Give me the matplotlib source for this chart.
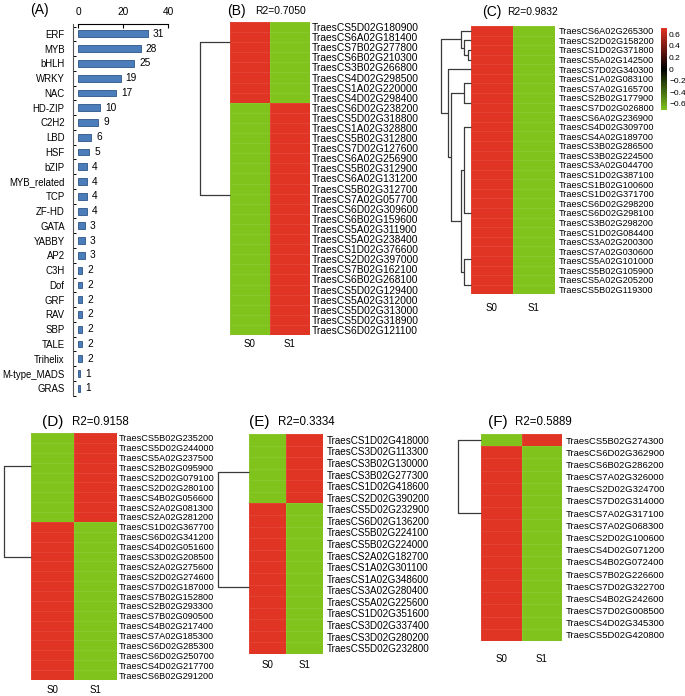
import numpy as np
import matplotlib.pyplot as plt
from matplotlib.colors import LinearSegmentedColormap

plt.rcParams['font.family'] = ['Liberation Sans', 'DejaVu Sans']

# ---- (A) number of genes per TF family ----
families = ['ERF', 'MYB', 'bHLH', 'WRKY', 'NAC', 'HD-ZIP', 'C2H2', 'LBD', 'HSF',
            'bZIP', 'MYB_related', 'TCP', 'ZF-HD', 'GATA', 'YABBY', 'AP2', 'C3H',
            'Dof', 'GRF', 'RAV', 'SBP', 'TALE', 'Trihelix', 'M-type_MADS', 'GRAS']
counts = [31, 28, 25, 19, 17, 10, 9, 6, 5, 4, 4, 4, 4, 3, 3, 3, 2, 2, 2, 2, 2, 2, 2, 1, 1]
count_ticks = [0, 20, 40]

# ---- heatmaps: row-scaled expression (S0, S1) ----
samples = ['S0', 'S1']

b_genes = ['TraesCS5D02G180900', 'TraesCS6A02G181400', 'TraesCS7B02G277800',
           'TraesCS6B02G210300', 'TraesCS3B02G266800', 'TraesCS4D02G298500',
           'TraesCS1A02G220000', 'TraesCS4D02G298400', 'TraesCS6D02G238200',
           'TraesCS5D02G318800', 'TraesCS1A02G328800', 'TraesCS5B02G312800',
           'TraesCS7D02G127600', 'TraesCS6A02G256900', 'TraesCS5B02G312900',
           'TraesCS6A02G131200', 'TraesCS5B02G312700', 'TraesCS7A02G057700',
           'TraesCS6D02G309600', 'TraesCS6B02G159600', 'TraesCS5A02G311900',
           'TraesCS5A02G238400', 'TraesCS1D02G376600', 'TraesCS2D02G397000',
           'TraesCS7B02G162100', 'TraesCS6B02G268100', 'TraesCS5D02G129400',
           'TraesCS5A02G312000', 'TraesCS5D02G313000', 'TraesCS5D02G318900',
           'TraesCS6D02G121100']
b_s0 = [0.707] * 8 + [-0.707] * 23
b_s1 = [-0.707] * 8 + [0.707] * 23
b_r2 = 'R2=0.7050'

c_genes = ['TraesCS6A02G265300', 'TraesCS2D02G158200', 'TraesCS1D02G371800',
           'TraesCS5A02G142500', 'TraesCS7D02G340300', 'TraesCS1A02G083100',
           'TraesCS7A02G165700', 'TraesCS2B02G177900', 'TraesCS7D02G026800',
           'TraesCS6A02G236900', 'TraesCS4D02G309700', 'TraesCS4A02G189700',
           'TraesCS3B02G286500', 'TraesCS3B02G224500', 'TraesCS3A02G044700',
           'TraesCS1D02G387100', 'TraesCS1B02G100600', 'TraesCS1D02G371700',
           'TraesCS6D02G298200', 'TraesCS6D02G298100', 'TraesCS3B02G298200',
           'TraesCS1D02G084400', 'TraesCS3A02G200300', 'TraesCS7A02G030600',
           'TraesCS5A02G101000', 'TraesCS5B02G105900', 'TraesCS5A02G205200',
           'TraesCS5B02G119300']
c_s0 = [0.707] * 28
c_s1 = [-0.707] * 28
c_r2 = 'R2=0.9832'

d_genes = ['TraesCS5B02G235200', 'TraesCS5D02G244000', 'TraesCS5A02G237500',
           'TraesCS2B02G095900', 'TraesCS2D02G079100', 'TraesCS2D02G280100',
           'TraesCS4B02G056600', 'TraesCS2A02G081300', 'TraesCS2A02G281200',
           'TraesCS1D02G367700', 'TraesCS6D02G341200', 'TraesCS4D02G051600',
           'TraesCS3D02G208500', 'TraesCS2A02G275600', 'TraesCS2D02G274600',
           'TraesCS7D02G187000', 'TraesCS7B02G152800', 'TraesCS2B02G293300',
           'TraesCS7B02G090500', 'TraesCS4B02G217400', 'TraesCS7A02G185300',
           'TraesCS6D02G285300', 'TraesCS6D02G250700', 'TraesCS4D02G217700',
           'TraesCS6B02G291200']
d_s0 = [-0.707] * 9 + [0.707] * 16
d_s1 = [0.707] * 9 + [-0.707] * 16
d_r2 = 'R2=0.9158'

e_genes = ['TraesCS1D02G418000', 'TraesCS3D02G113300', 'TraesCS3B02G130000',
           'TraesCS3B02G277300', 'TraesCS1D02G418600', 'TraesCS2D02G390200',
           'TraesCS5D02G232900', 'TraesCS6D02G136200', 'TraesCS5B02G224100',
           'TraesCS5B02G224000', 'TraesCS2A02G182700', 'TraesCS1A02G301100',
           'TraesCS1A02G348600', 'TraesCS3A02G280400', 'TraesCS5A02G225600',
           'TraesCS1D02G351600', 'TraesCS3D02G337400', 'TraesCS3D02G280200',
           'TraesCS5D02G232800']
e_s0 = [-0.707] * 6 + [0.707] * 13
e_s1 = [0.707] * 6 + [-0.707] * 13
e_r2 = 'R2=0.3334'

f_genes = ['TraesCS5B02G274300', 'TraesCS6D02G362900', 'TraesCS6B02G286200',
           'TraesCS7A02G326000', 'TraesCS2D02G324700', 'TraesCS7D02G314000',
           'TraesCS7A02G317100', 'TraesCS7A02G068300', 'TraesCS2D02G100600',
           'TraesCS4D02G071200', 'TraesCS4B02G072400', 'TraesCS7B02G226600',
           'TraesCS7D02G322700', 'TraesCS4B02G242600', 'TraesCS7D02G008500',
           'TraesCS4D02G345300', 'TraesCS5D02G420800']
f_s0 = [-0.707] * 1 + [0.707] * 16
f_s1 = [0.707] * 1 + [-0.707] * 16
f_r2 = 'R2=0.5889'

# row dendrograms: leaf = row position (height 0), node = (left, right, height)
b_tree = (1.5, 16.6, 30)
c_tree = ((0, (1, (2, 3, 3), 6.7), 10.2),
          (4, ((5.5, 7.5, 6.7), ((10, 19, 6.7), (23.8, 26.5, 6.7), 10.2), 20), 22.7),
          29.7)
d_tree = (2.8, 12.0, 27)
e_tree = (2.8, 12.7, 31)
f_tree = (0, 6.0, 23)

cbar_ticks = [0.6, 0.4, 0.2, 0, -0.2, -0.4, -0.6]
cbar_labels = ['0.6', '0.4', '0.2', '0', '\u22120.2', '\u22120.4', '\u22120.6']

W, H = 685, 696
RED, GREEN = '#E03424', '#7FC31C'
cmap = LinearSegmentedColormap.from_list('gkr', [GREEN, 'black', RED])
VMAX = 0.7071


def box(x0, y0, x1, y1):
    """pixel box (top-left origin) -> figure fraction rect"""
    return [x0 / W, 1 - y1 / H, (x1 - x0) / W, (y1 - y0) / H]


def ftext(x, y, s, **kw):
    fig.text(x / W, 1 - y / H, s, va='center', **kw)


def draw_tree(ax, node):
    if not isinstance(node, tuple):
        return float(node), 0.0
    left, right, h = node
    y1, h1 = draw_tree(ax, left)
    y2, h2 = draw_tree(ax, right)
    ax.plot([h1, h, h, h2], [y1, y1, y2, y2], color='#3a3a3a', lw=0.9,
            clip_on=False, solid_capstyle='butt')
    return (y1 + y2) / 2, h


def heatmap_panel(hm, tree_left, genes, s0, s1, tree, gene_fs, gene_pad, s_pad):
    x0, y0, x1, y1 = hm
    n = len(genes)
    ax = fig.add_axes(box(x0, y0, x1, y1))
    vals = np.column_stack([s0, s1])
    mesh = ax.pcolormesh(np.arange(3) - 0.5, np.arange(n + 1) - 0.5, vals,
                         cmap=cmap, vmin=-VMAX, vmax=VMAX,
                         edgecolors=(1, 1, 1, 0.08), linewidth=0.4)
    ax.set_xlim(-0.5, 1.5)
    ax.set_ylim(n - 0.5, -0.5)
    ax.set_xticks([0, 1], samples, fontsize=7)
    ax.set_yticks(range(n), genes, fontsize=gene_fs)
    ax.yaxis.tick_right()
    ax.tick_params(axis='y', length=0, pad=gene_pad)
    ax.tick_params(axis='x', length=0, pad=s_pad)
    for s in ax.spines.values():
        s.set_visible(False)

    dax = fig.add_axes(box(tree_left, y0, x0, y1))
    dax.set_xlim(x0 - tree_left, 0)
    dax.set_ylim(n - 0.5, -0.5)
    dax.axis('off')
    draw_tree(dax, tree)
    return mesh


fig = plt.figure(figsize=(W / 100, H / 100), dpi=100)

# ---- (A) bar chart ----
ax = fig.add_axes(box(73, 24, 168, 395.7))
y = np.arange(len(families))
ax.barh(y, counts, height=0.46, color='#4A7DBA', edgecolor='#2D5485', linewidth=0.6)
for yi, v in zip(y, counts):
    ax.annotate(str(v), (v, yi), xytext=(3.5, 0), textcoords='offset points',
                va='center', ha='left', fontsize=7.3)
ax.set_xlim(-2.22, 40)
ax.set_ylim(24.38, -0.67)
ax.xaxis.tick_top()
ax.set_xticks(count_ticks)
ax.tick_params(axis='x', direction='in', length=3, pad=5, labelsize=7.3, width=0.8)
ax.set_yticks(y, families)
ax.set_yticks(np.arange(len(families) + 1) - 0.5, minor=True)
ax.tick_params(axis='y', which='major', length=0, pad=6, labelsize=6.9)
ax.tick_params(axis='y', which='minor', direction='in', length=2.5, width=0.7)
ax.spines['right'].set_visible(False)
ax.spines['bottom'].set_visible(False)
ax.spines['top'].set_bounds(0, 40)
ax.spines['top'].set_linewidth(0.8)
ax.spines['left'].set_linewidth(0.8)
ax.spines['left'].set_color('#555555')
ftext(39, 10, '(A)', fontsize=10, ha='center')

# ---- (B) ----
heatmap_panel((230, 22, 310, 335), 195, b_genes, b_s0, b_s1, b_tree, 7.4, 1, 2.9)
ftext(236.5, 11, '(B)', fontsize=10, ha='center')
ftext(255, 11, b_r2, fontsize=7.4, ha='left')

# ---- (C) ----
mesh_c = heatmap_panel((471, 26, 555, 294.3), 436, c_genes, c_s0, c_s1, c_tree, 6.6, 3, 6.3)
ftext(491.5, 12, '(C)', fontsize=10, ha='center')
ftext(506.7, 12, c_r2, fontsize=7.4, ha='left')
cax = fig.add_axes(box(661, 28, 667, 110))
cb = fig.colorbar(mesh_c, cax=cax, ticks=cbar_ticks)
cb.set_ticklabels(cbar_labels)
cb.outline.set_visible(False)
cax.tick_params(length=0, labelsize=6, pad=1.5)

# ---- (D) ----
heatmap_panel((31, 433, 117, 680), 0, d_genes, d_s0, d_s1, d_tree, 6.6, 1, 3.6)
ftext(52.5, 421.7, '(D)', fontsize=11, ha='center')
ftext(71.7, 421.7, d_r2, fontsize=8.3, ha='left')

# ---- (E) ----
heatmap_panel((249, 434, 323, 654), 214, e_genes, e_s0, e_s1, e_tree, 7.1, 2.5, 4.3)
ftext(259, 422, '(E)', fontsize=11, ha='center')
ftext(278, 422, e_r2, fontsize=8.3, ha='left')

# ---- (F) ----
heatmap_panel((481, 434, 562, 641), 453, f_genes, f_s0, f_s1, f_tree, 6.8, 3, 9.4)
ftext(498, 422, '(F)', fontsize=11, ha='center')
ftext(515, 422, f_r2, fontsize=8.3, ha='left')

fig.savefig('out.png', dpi=100)
